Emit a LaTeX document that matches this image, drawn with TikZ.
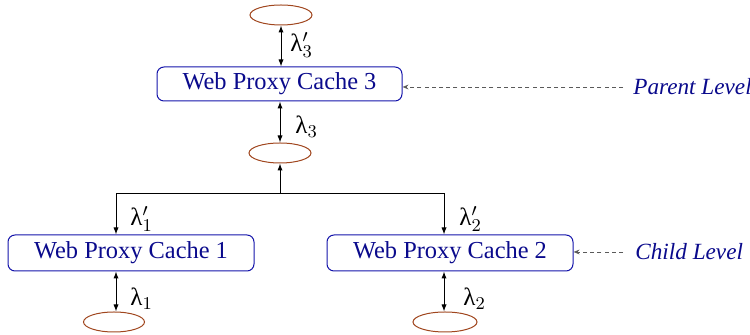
\documentclass[tikz,border=0pt]{standalone}
\usepackage{fontspec}
\setmainfont{Liberation Serif}
\usetikzlibrary{shapes.geometric,arrows.meta}
\definecolor{boxblue}{RGB}{20,20,170}
\definecolor{txtblue}{RGB}{10,10,140}
\definecolor{ellbrown}{RGB}{160,70,30}
\definecolor{dashgray}{RGB}{90,90,90}
\tikzset{
  cachebox/.style={draw=boxblue, line width=0.5pt, rounded corners=3.5pt, text=txtblue,
    minimum width=122.5pt, minimum height=17.5pt, inner sep=0pt,
    font=\fontsize{12.2}{14}\selectfont},
  cell/.style={draw=ellbrown, line width=0.5pt, ellipse, inner sep=0pt,
    minimum width=31pt, minimum height=10pt},
  link/.style={line width=0.5pt, {Latex[length=3.5pt,width=2.6pt]}-{Latex[length=3.5pt,width=2.6pt]}},
  feed/.style={line width=0.5pt, -{Latex[length=3.5pt,width=2.6pt]}},
  rate/.style={anchor=west, inner sep=0pt, font=\fontsize{12.5}{14}\selectfont},
  levellabel/.style={anchor=west, inner sep=0pt, text=txtblue, font=\fontsize{11.6}{14}\selectfont\itshape},
  levelline/.style={draw=dashgray, line width=0.45pt, dashed, dash pattern=on 2pt off 1.6pt,
    -{Stealth[open,length=3pt,width=2.4pt]}}
}
\begin{document}
\begin{tikzpicture}[x=0.5pt,y=-0.5pt]
\useasboundingbox (0,0) rectangle (750,335);
% ellipses
\node[cell] (etop) at (281,15) {};
\node[cell] (emid) at (280,153) {};
\node[cell, minimum width=30.5pt] (e1) at (114,322) {};
\node[cell, minimum width=32pt] (e2) at (445,322) {};
% boxes
\node[cachebox, minimum height=17pt] (b3) at (279.5,84) {Web Proxy Cache 3\hspace{4pt}};
\node[cachebox, minimum width=123pt, minimum height=18pt] (b1) at (131,253) {Web Proxy Cache 1\hspace{9.5pt}};
\node[cachebox, minimum width=123pt, minimum height=18pt] (b2) at (450,253) {Web Proxy Cache 2\hspace{4.5pt}};
% connectors
\draw[link] (etop.south) -- (etop.south |- b3.north);
\draw[link] (b3.south -| emid) -- (emid.north);
\coordinate (j) at (280,194);
\draw[feed] (j) -- (emid.south);
\draw[feed] (j) -| (b1.north -| 116,0);
\draw[feed] (j) -| (b2.north -| 444,0);
\draw[link] (b1.south -| 116,0) -- (e1.north -| 116,0);
\draw[link] (b2.south -| 444,0) -- (e2.north -| 444,0);
% rate labels
\node[rate] (l3p) at (290,45) {λ$'_3$};
\node[rate] (l3) at (295,127) {λ$_3$};
\node[rate] (l1p) at (130,219) {λ$'_1$};
\node[rate] (l1) at (130,299) {λ$_1$};
\node[rate] (l2p) at (459,219) {λ$'_2$};
\node[rate] (l2) at (463,299) {λ$_2$};
% level labels
\node[levellabel] (pl) at (633,87) {Parent Level};
\node[levellabel] (cl) at (635,252) {Child Level};
\draw[levelline] ([xshift=-5pt]pl.west) -- (pl.west -| b3.east);
\draw[levelline] ([xshift=-6pt]cl.west) -- (cl.west -| b2.east);
\end{tikzpicture}
\end{document}
